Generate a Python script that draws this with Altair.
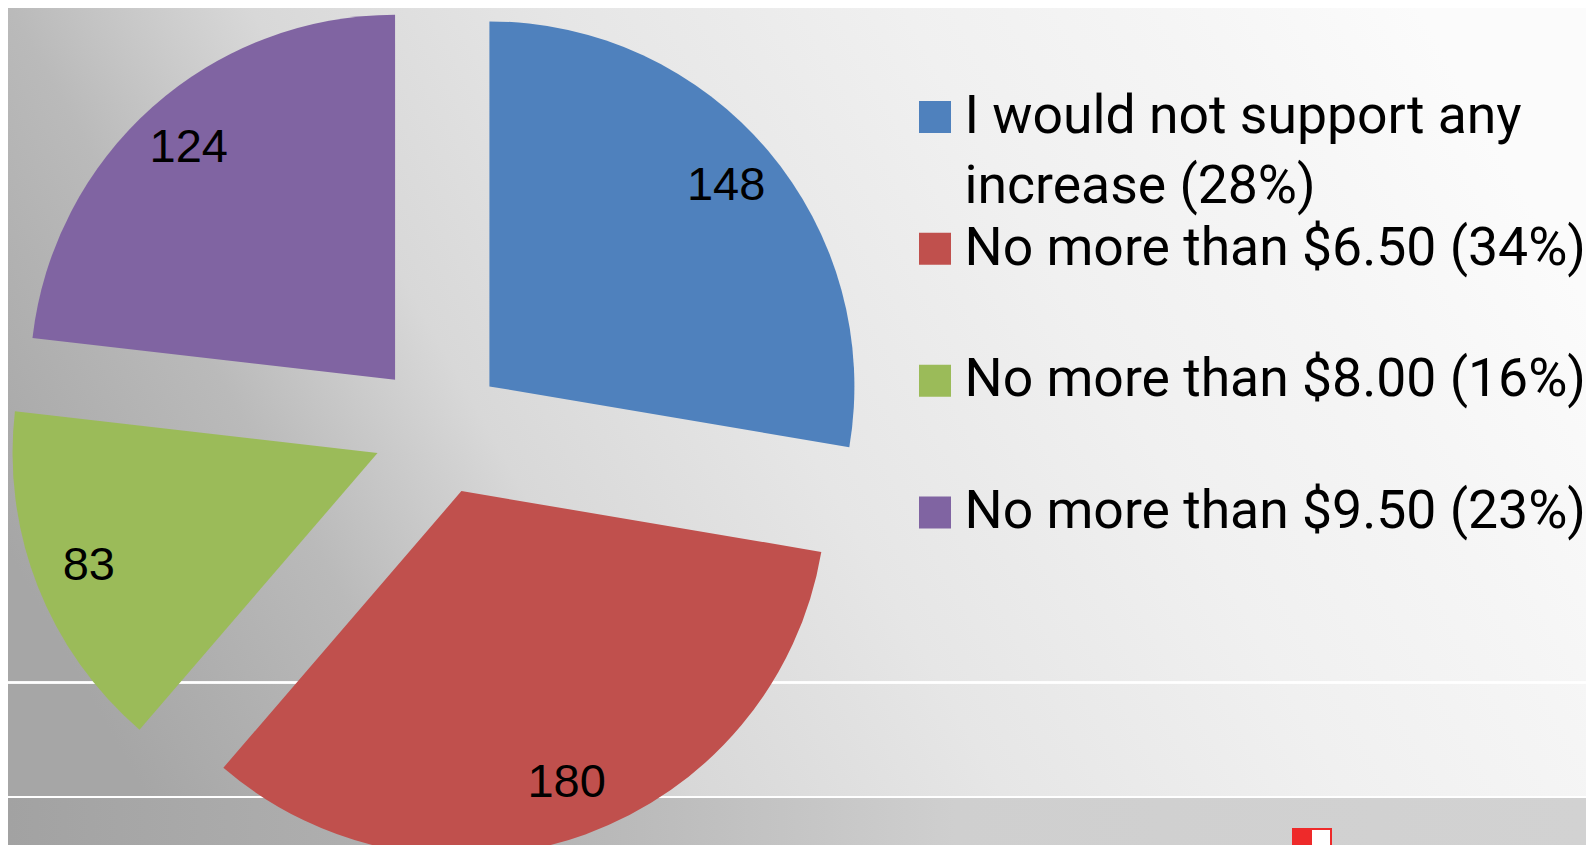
import altair as alt
import pandas as pd

# ---- data ----
categories = [
    "I would not support any increase",
    "No more than $6.50",
    "No more than $8.00",
    "No more than $9.50",
]
values = [148, 180, 83, 124]
legend_labels = [
    "I would not support any\nincrease (28%)",
    "No more than $6.50 (34%)",
    "No more than $8.00 (16%)",
    "No more than $9.50 (23%)",
]
colors = ["#4f81bd", "#c0504d", "#9bbb59", "#8064a2"]

df = pd.DataFrame({
    "cat": categories,
    "value": values,
    "legend": legend_labels,
    "order": list(range(len(categories))),
})

# ---- layout constants ----
W, H = 1578, 837
CX, CY = 431, 421      # pie centre (chart coords)
D = 66                 # explode distance
R = 365                # pie radius
LR = 310               # label distance from slice vertex
PI2 = "2*PI"

xs = alt.Scale(domain=[-1, 1], range=[CX - D, CX + D], nice=False, zero=False)
ys = alt.Scale(domain=[-1, 1], range=[CY - D, CY + D], nice=False, zero=False)

base = alt.Chart(df).transform_window(
    cum="sum(value)", sort=[alt.SortField("order")]
).transform_joinaggregate(
    total="sum(value)"
).transform_calculate(
    t0=f"(datum.cum - datum.value) / datum.total * {PI2}",
    t1=f"datum.cum / datum.total * {PI2}",
).transform_calculate(
    mid="(datum.t0 + datum.t1) / 2"
).transform_calculate(
    ex="sin(datum.mid)",
    ey="-cos(datum.mid)",
).transform_calculate(
    lx=f"datum.ex * {(D + LR) / D}",
    ly=f"datum.ey * {(D + LR) / D}",
)

color = alt.Color("cat:N", scale=alt.Scale(domain=categories, range=colors), legend=None)

# background
bg = alt.Chart(df).mark_rect(
    color={
        "gradient": "linear",
        "x1": 0, "y1": 0.65, "x2": 1, "y2": 0.35,
        "stops": [
            {"offset": 0.0, "color": "#a6a6a6"},
            {"offset": 0.18, "color": "#bababa"},
            {"offset": 0.32, "color": "#d8d8d8"},
            {"offset": 0.5, "color": "#e6e6e6"},
            {"offset": 0.7, "color": "#f0f0f0"},
            {"offset": 0.85, "color": "#f5f5f5"},
            {"offset": 1.0, "color": "#fbfbfb"},
        ],
    }
).encode(x=alt.value(0), x2=alt.value(W), y=alt.value(0), y2=alt.value(H))

band = alt.Chart(df).mark_rect(
    color={
        "gradient": "linear",
        "x1": 0, "y1": 0.5, "x2": 1, "y2": 0.5,
        "stops": [
            {"offset": 0.0, "color": "#a2a2a2"},
            {"offset": 0.35, "color": "#b6b6b6"},
            {"offset": 0.6, "color": "#cfcfcf"},
            {"offset": 1.0, "color": "#d2d2d2"},
        ],
    }
).encode(x=alt.value(0), x2=alt.value(W), y=alt.value(790), y2=alt.value(H))

rule1 = alt.Chart(df).mark_rule(color="white", strokeWidth=2, opacity=0.9).encode(
    x=alt.value(0), x2=alt.value(W), y=alt.value(674.5))
rule2 = alt.Chart(df).mark_rule(color="white", strokeWidth=2, opacity=0.9).encode(
    x=alt.value(0), x2=alt.value(W), y=alt.value(789))

# logo fragment at bottom right
logo_red = alt.Chart(df).mark_rect(color="#ee2a2a").encode(
    x=alt.value(1284), x2=alt.value(1324), y=alt.value(820), y2=alt.value(H))
logo_white = alt.Chart(df).mark_rect(color="white").encode(
    x=alt.value(1304), x2=alt.value(1322), y=alt.value(822), y2=alt.value(837))

arcs = base.mark_arc(radius=R).encode(
    x=alt.X("ex:Q", scale=xs, axis=None),
    y=alt.Y("ey:Q", scale=ys, axis=None),
    theta=alt.Theta("t0:Q", scale=None),
    theta2=alt.Theta2("t1:Q"),
    color=color,
    tooltip=["cat:N", "value:Q"],
)

labels = base.mark_text(
    font="Liberation Sans", fontSize=47, color="black", align="center", baseline="middle"
).encode(
    x=alt.X("lx:Q", scale=xs, axis=None),
    y=alt.Y("ly:Q", scale=ys, axis=None),
    text="value:Q",
)

ly_scale = alt.Scale(domain=[0, 3], range=[109, 504.5], nice=False, zero=False)

leg_sq = alt.Chart(df).mark_square(size=1024, opacity=1, filled=True).encode(
    x=alt.value(927),
    y=alt.Y("order:Q", scale=ly_scale, axis=None),
    color=color,
)

leg_txt = alt.Chart(df).mark_text(
    font="Roboto", fontSize=53.5, color="black", align="left", baseline="alphabetic",
    dy=15.7, lineBreak="\n", lineHeight=70.3,
).encode(
    x=alt.value(956.5),
    y=alt.Y("order:Q", scale=ly_scale, axis=None),
    text="legend:N",
)

chart = alt.layer(bg, band, rule1, rule2, logo_red, logo_white, arcs, labels, leg_sq, leg_txt).resolve_scale(
    x="independent", y="independent"
).properties(
    width=W, height=H, autosize=alt.AutoSizeParams(type="none"), padding=0
).configure_view(stroke=None)

chart.save("out.html", embed_options={"renderer": "svg", "actions": False})
